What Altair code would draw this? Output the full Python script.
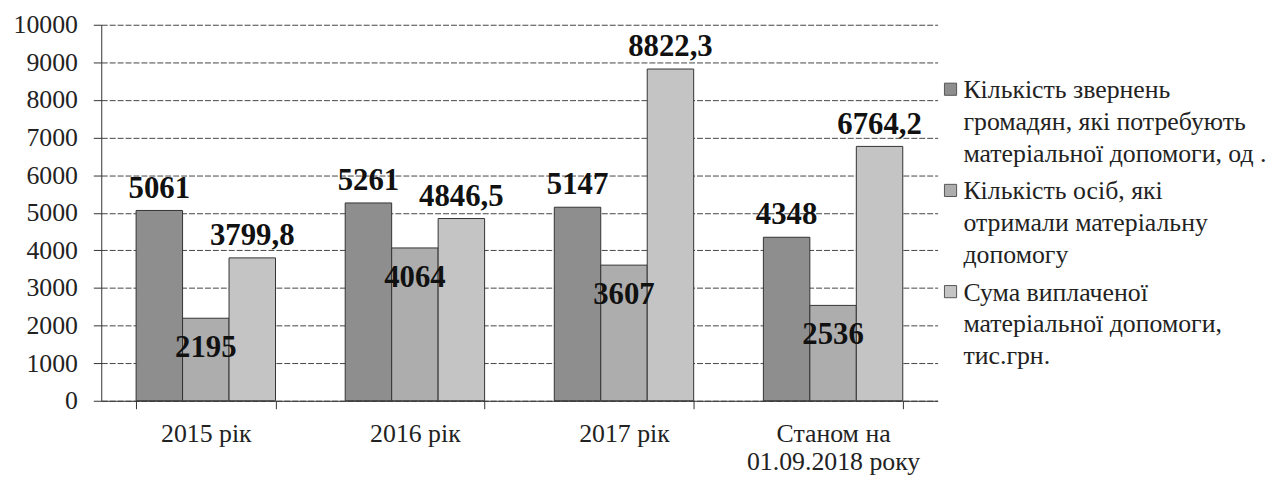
import altair as alt
import pandas as pd

categories = ["2015 рік", "2016 рік", "2017 рік", "Станом на 01.09.2018 року"]
series = [
    "Кількість звернень|громадян, які потребують|матеріальної допомоги, од .",
    "Кількість осіб, які|отримали матеріальну|допомогу",
    "Сума виплаченої|матеріальної допомоги,|тис.грн.",
]
appeals = [5061, 5261, 5147, 4348]
recipients = [2195, 4064, 3607, 2536]
paid = [3799.8, 4846.5, 8822.3, 6764.2]
colors = ["#8e8e8e", "#adadad", "#c4c4c4"]
y_ticks = list(range(0, 10001, 1000))


def fmt(v):
    if float(v).is_integer():
        return str(int(v))
    return str(v).replace(".", ",")


rows = []
for si, vals in enumerate([appeals, recipients, paid]):
    for ci, v in enumerate(vals):
        rows.append({"cat": categories[ci], "series": series[si], "sidx": si,
                     "value": v, "label": fmt(v)})
df = pd.DataFrame(rows)

FONT = "Liberation Serif"
LABEL_DY = 9  # shared vertical nudge of guide labels (legend alignment)

x_enc = alt.X(
    "cat:N", sort=categories,
    scale=alt.Scale(paddingInner=1 / 3, paddingOuter=1 / 6),
    axis=alt.Axis(
        title=None, labelAngle=0, tickBand="extent", tickSize=8,
        labelPadding=12 - LABEL_DY, labelFont=FONT, labelFontSize=26,
        labelColor="#222", labelLineHeight=28, domainColor="#333",
        tickColor="#333",
        labelExpr="datum.label == 'Станом на 01.09.2018 року' ? ['Станом на', '01.09.2018 року'] : datum.label",
    ),
)
y_enc = alt.Y(
    "value:Q", scale=alt.Scale(domain=[0, 10000], nice=False),
    axis=alt.Axis(
        title=None, values=y_ticks, format="d", tickSize=8, labelPadding=16,
        labelFont=FONT, labelFontSize=26, labelColor="#222",
        labelLineHeight=26, labelOffset=-LABEL_DY,
        domainColor="#333", tickColor="#333",
        grid=True, gridColor="#444", gridDash=[6, 2], gridWidth=1,
    ),
)
xoff = alt.XOffset("series:N", sort=series)

bars = alt.Chart(df).mark_bar(stroke="#333", strokeWidth=1).encode(
    x=x_enc, xOffset=xoff, y=y_enc,
    color=alt.Color(
        "series:N", sort=series,
        scale=alt.Scale(domain=series, range=colors),
        legend=alt.Legend(
            title=None, orient="none", legendX=843, legendY=52,
            labelExpr="split(datum.label, '|')",
            labelFont=FONT, labelFontSize=26, labelColor="#222",
            labelLimit=400, symbolType="square", symbolSize=150,
            symbolStrokeColor="#555", symbolStrokeWidth=1,
            rowPadding=11, labelBaseline="alphabetic", labelOffset=0,
        ),
    ),
)

label_common = dict(font=FONT, fontSize=31, fontWeight="bold", color="#111")

above = alt.Chart(df).transform_filter("datum.sidx != 1").mark_text(
    baseline="middle", dy=-22, **label_common
).encode(x=x_enc, xOffset=xoff, y=y_enc, text="label:N")

inside = alt.Chart(df).transform_filter("datum.sidx == 1").mark_text(
    baseline="middle", dy=30, **label_common
).encode(x=x_enc, xOffset=xoff, y=y_enc, text="label:N")

chart = alt.layer(bars, above, inside).properties(
    width=843, height=379, background="white",
    padding={"left": 5, "top": 2, "right": 2, "bottom": 5},
).configure(
    style={"guide-label": {"lineHeight": 32, "dy": LABEL_DY}}
).configure_view(stroke=None).configure_axis(
    labelFont=FONT
).configure_legend(labelFont=FONT).configure_text(font=FONT)

chart.save("out.html", embed_options={"renderer": "svg", "actions": False})
